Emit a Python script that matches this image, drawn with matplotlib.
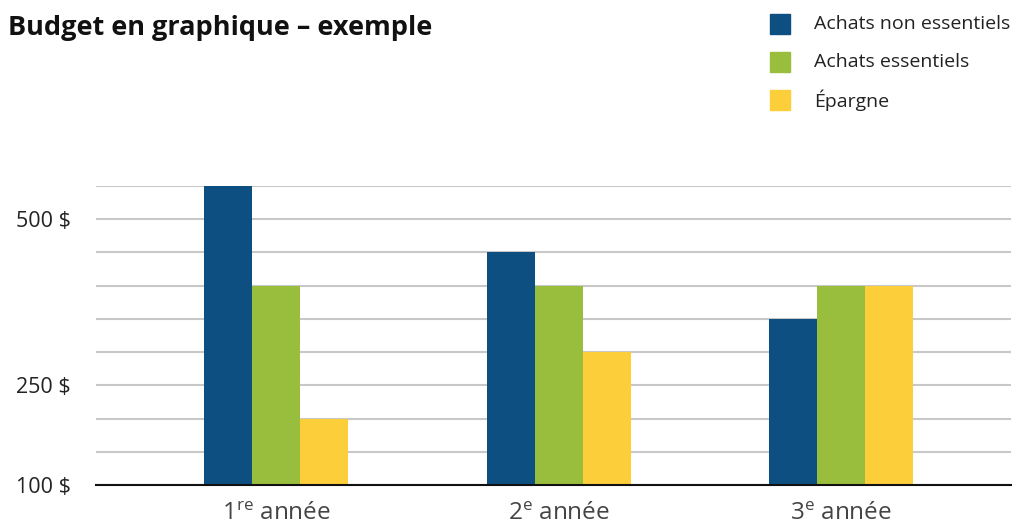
import matplotlib
matplotlib.use('Agg')
import matplotlib.pyplot as plt
import matplotlib.patches as mpatches
import numpy as np

# ── Données ──────────────────────────────────────────────────────────────────
years = [r'1$^{\mathregular{re}}$ année', r'2$^{\mathregular{e}}$ année', r'3$^{\mathregular{e}}$ année']
series = ['Achats non essentiels', 'Achats essentiels', 'Épargne']
non_essentiels = [550, 450, 350]
essentiels = [400, 400, 400]
epargne = [200, 300, 400]

ytick_vals = [100, 150, 200, 250, 300, 350, 400, 450, 500, 550]
ytick_labels = ['100 $', '', '', '250 $', '', '', '', '', '500 $', '']

COLORS = ['#0E4F82', '#99BE3D', '#FBCE3A']

plt.rcParams['font.family'] = ['Open Sans', 'DejaVu Sans']
plt.rcParams['mathtext.fontset'] = 'custom'
plt.rcParams['mathtext.rm'] = 'Open Sans'

fig = plt.figure(figsize=(10.16, 5.29), dpi=100)
W, H = 1016, 529
ax = fig.add_axes([96 / W, (H - 485) / H, (1011 - 96) / W, (485 - 186) / H])

x = np.arange(len(years))
w = 0.17
for i, (vals, col) in enumerate(zip([non_essentiels, essentiels, epargne], COLORS)):
    ax.bar(x + (i - 1) * w, np.array(vals) - 100, w, bottom=100, color=col,
           linewidth=0, zorder=3)

ax.set_xlim(-0.637, 2.60)
ax.set_ylim(100, 550)
ax.set_yticks(ytick_vals)
ax.set_yticklabels(ytick_labels, fontsize=15.5, color='#222222')
ax.set_xticks(x)
ax.set_xticklabels(years, fontsize=17.5, color='#444444')
ax.tick_params(axis='y', length=0, pad=18)
ax.tick_params(axis='x', length=0, pad=12)
ax.yaxis.grid(True, color='#c8c8c8', linewidth=1.5, zorder=0)
for s in ['top', 'right', 'left']:
    ax.spines[s].set_visible(False)
ax.spines['bottom'].set_color('#111111')
ax.spines['bottom'].set_linewidth(1.5)
ax.spines['bottom'].set_zorder(4)

fig.text(8 / W, 1 - 28 / H, 'Budget en graphique – exemple', fontsize=19.5,
         fontweight='bold', color='#111111', va='center', ha='left')

# légende manuelle
for j, (lab, col) in enumerate(zip(series, COLORS)):
    yc = [24, 62, 100][j]
    fig.patches.append(mpatches.Rectangle((770 / W, 1 - (yc + 10) / H), 20 / W, 20 / H,
                                          transform=fig.transFigure, color=col))
    fig.text(814 / W, 1 - yc / H, lab, fontsize=14, color='#222222', va='center', ha='left')

fig.savefig('out.png', dpi=100)
